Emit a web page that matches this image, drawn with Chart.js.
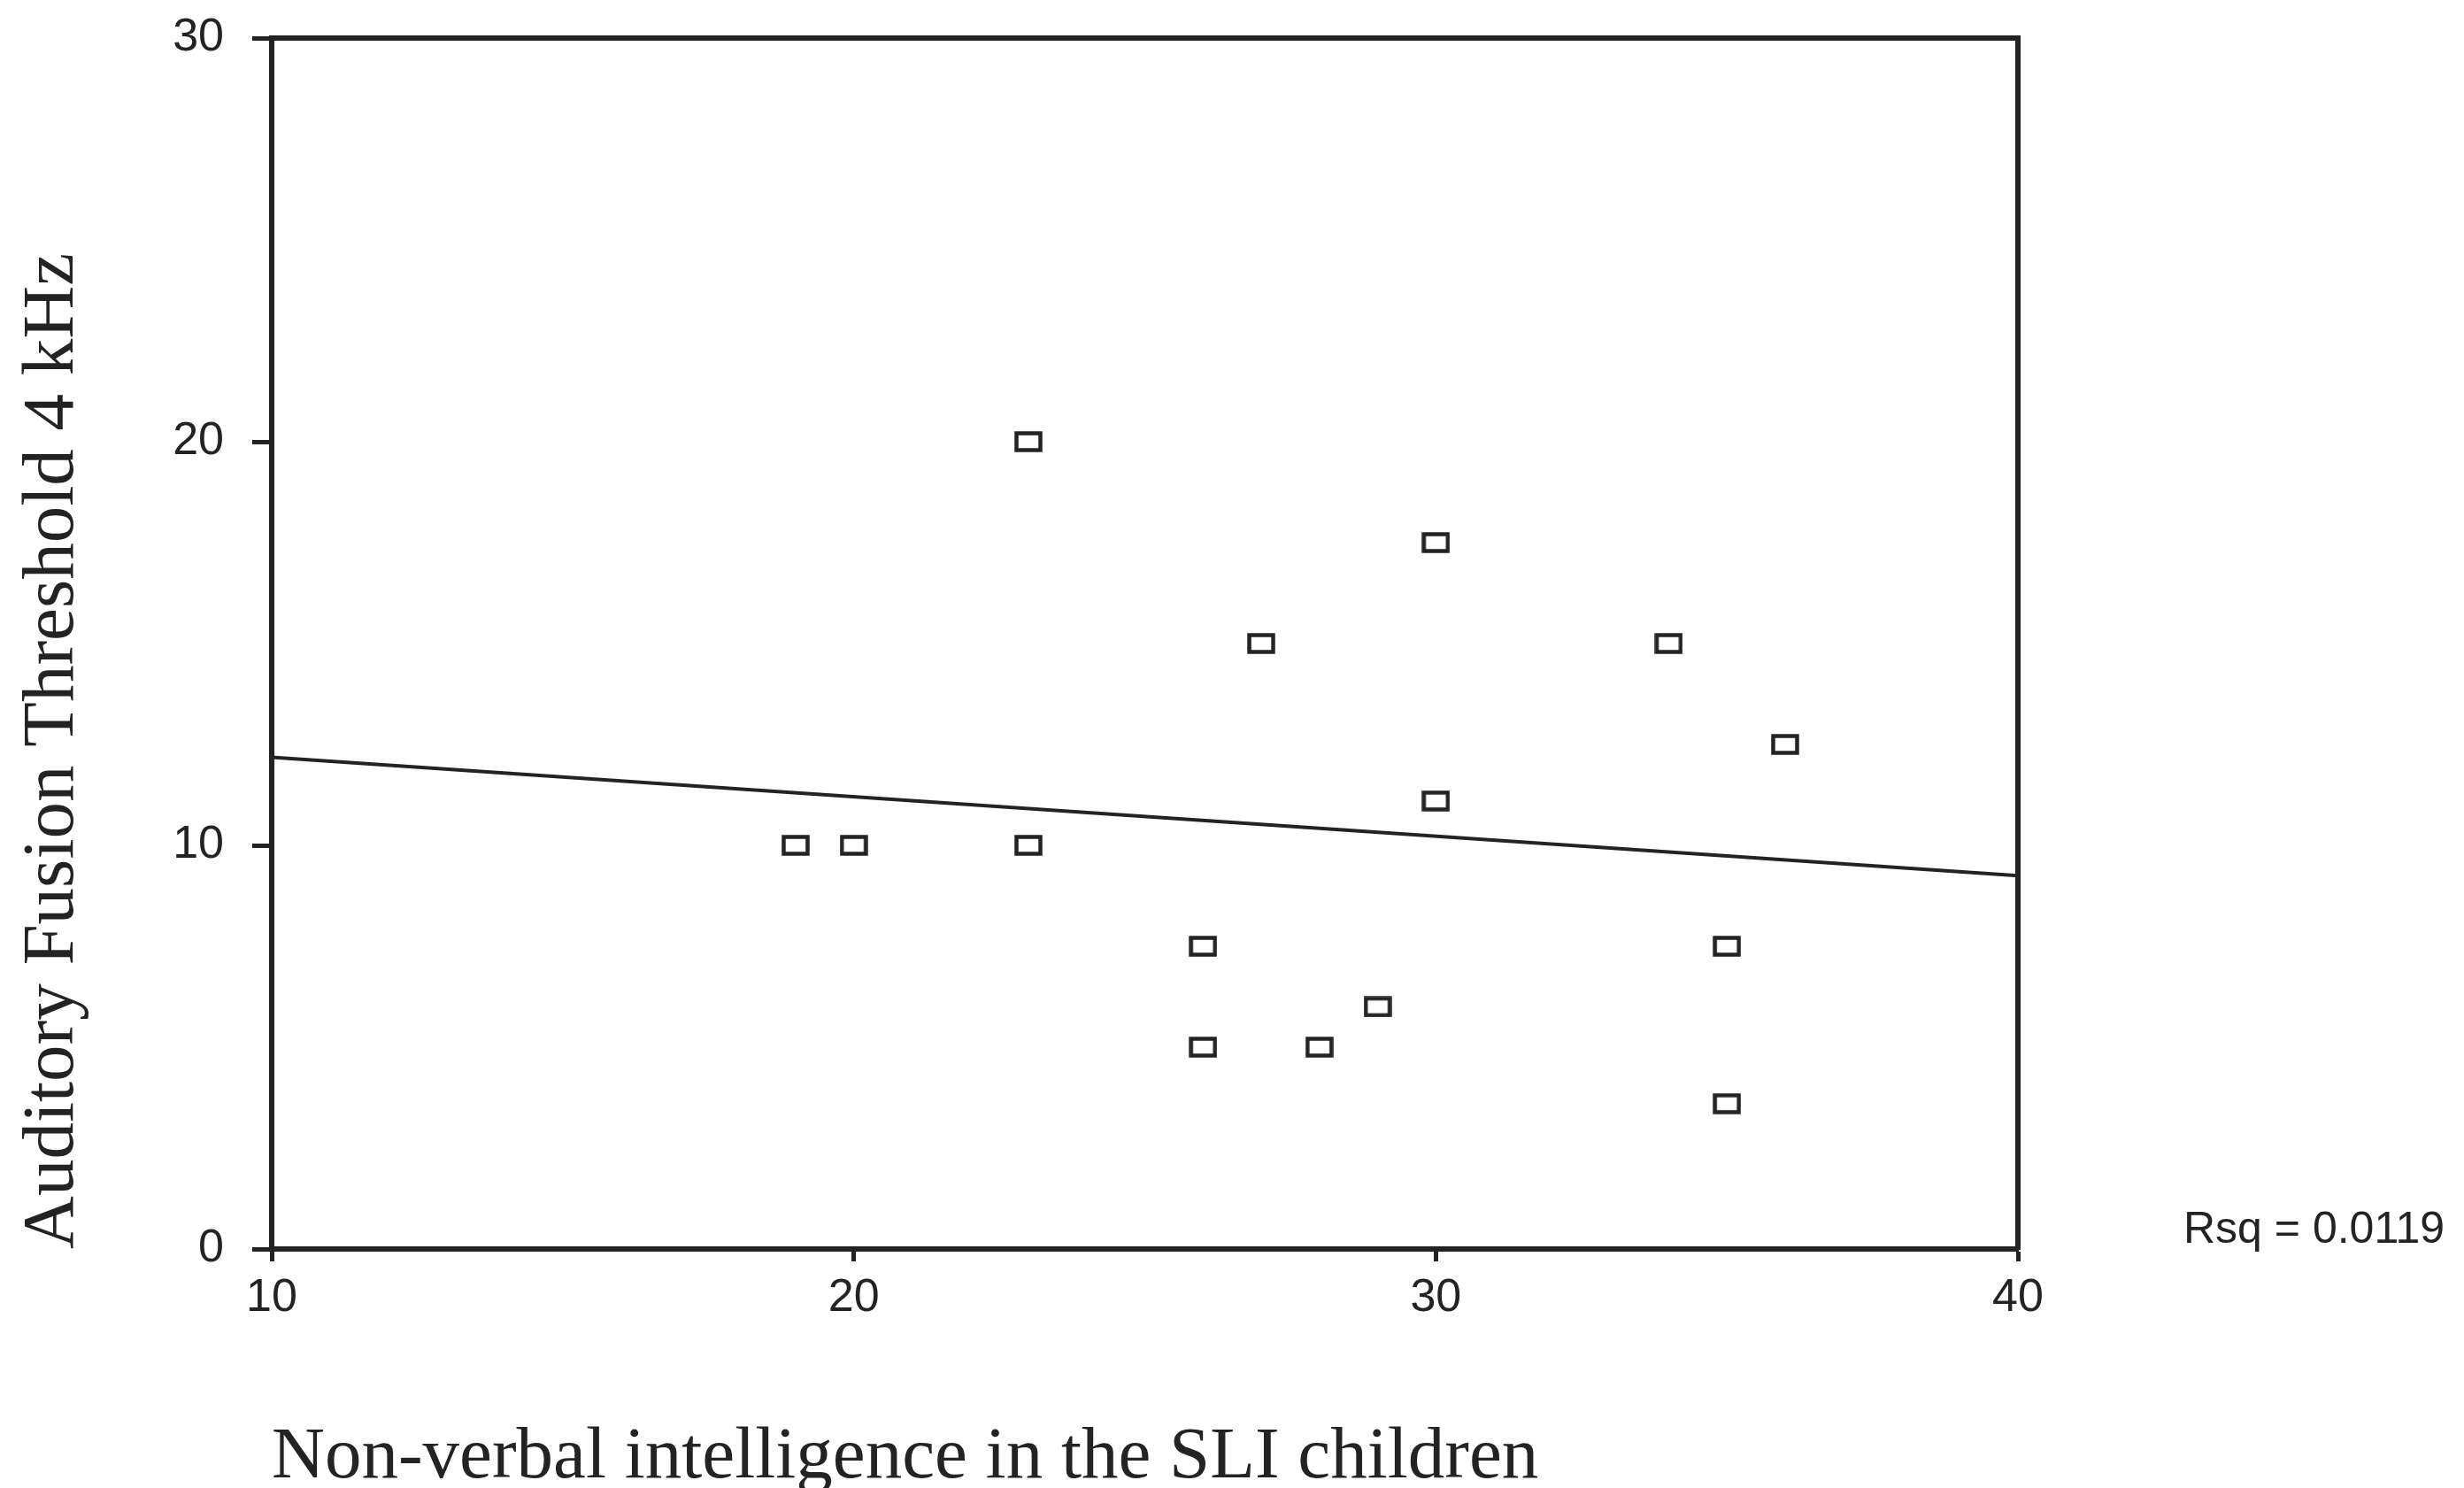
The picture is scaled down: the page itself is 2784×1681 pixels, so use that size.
<!DOCTYPE html>
<html>
<head>
<meta charset="utf-8">
<script src="https://cdn.jsdelivr.net/npm/chart.js@4/dist/chart.umd.min.js"></script>
<style>
  html, body { margin: 0; padding: 0; background: #ffffff; }
  canvas { display: block; }
</style>
</head>
<body>
<canvas id="c" width="2784" height="1681"></canvas>
<script>
// ---- data ----
const xValues = [19, 20, 23, 23, 27, 30, 30, 34, 36, 26, 26, 28, 29, 35, 35];
const yValues = [10, 10, 10, 20, 15, 17.5, 11.1, 15, 12.5, 7.5, 5, 5, 6, 7.5, 3.6];
const fitX = [10, 40];
const fitY = [12.18, 9.25];
const xTicks = [10, 20, 30, 40];
const yTicks = [0, 10, 20, 30];
const xTitle = 'Non-verbal intelligence in the SLI children';
const yTitle = 'Auditory Fusion Threshold 4 kHz';
const rsqLabel = 'Rsq = 0.0119';

const ink = '#232323';

// hollow rectangular marker
const marker = document.createElement('canvas');
marker.width = 32; marker.height = 24;
(function () {
  const m = marker.getContext('2d');
  m.strokeStyle = ink;
  m.lineWidth = 4.5;
  m.strokeRect(2.5, 2.5, 27, 19);
})();

const points = xValues.map((x, i) => ({ x: x, y: yValues[i] }));
const fitLine = fitX.map((x, i) => ({ x: x, y: fitY[i] }));

const rsqPlugin = {
  id: 'rsq',
  afterDraw(chart) {
    const a = chart.chartArea;
    const ctx = chart.ctx;
    ctx.save();
    ctx.font = '50px "Liberation Sans", Arial, sans-serif';
    ctx.fillStyle = ink;
    ctx.textBaseline = 'alphabetic';
    ctx.textAlign = 'left';
    ctx.fillText(rsqLabel, a.right + 187, a.bottom - 7);
    ctx.restore();
  }
};

const tickFont = { family: '"Liberation Sans", Arial, sans-serif', size: 52 };
const titleFont = { family: '"Liberation Serif", "Times New Roman", serif', size: 83, lineHeight: 1.2 };

function zeroPad(s) {
  s.paddingTop = 0; s.paddingBottom = 0; s.paddingLeft = 0; s.paddingRight = 0;
}

new Chart(document.getElementById('c'), {
  type: 'scatter',
  data: {
    datasets: [
      {
        label: 'fit',
        type: 'line',
        data: fitLine,
        borderColor: ink,
        borderWidth: 4,
        pointRadius: 0,
        fill: false,
        order: 2
      },
      {
        label: 'children',
        data: points,
        pointStyle: marker,
        pointRadius: 14,
        order: 1
      }
    ]
  },
  options: {
    responsive: false,
    devicePixelRatio: 1,
    animation: false,
    layout: { autoPadding: false, padding: { left: 10, top: 43, right: 504, bottom: 0 } },
    plugins: {
      legend: { display: false },
      tooltip: { enabled: false }
    },
    scales: {
      x: {
        type: 'linear',
        position: 'bottom',
        min: 10, max: 40,
        afterBuildTicks(s) { s.ticks = xTicks.map(v => ({ value: v })); },
        ticks: { font: tickFont, color: ink, padding: 10, maxRotation: 0 },
        grid: { drawOnChartArea: false, drawTicks: true, tickLength: 14, tickWidth: 5, color: ink },
        border: { display: true, width: 6, color: ink },
        title: { display: true, text: xTitle, align: 'start', font: titleFont, color: ink, padding: { top: 0, bottom: -16 } },
        afterFit(s) { s.height = 270; zeroPad(s); }
      },
      y: {
        type: 'linear',
        position: 'left',
        min: 0, max: 30,
        afterBuildTicks(s) { s.ticks = yTicks.map(v => ({ value: v })); },
        ticks: { font: tickFont, color: ink, padding: 32 },
        grid: { drawOnChartArea: false, drawTicks: true, tickLength: 22, tickWidth: 5, color: ink },
        border: { display: true, width: 6, color: ink },
        title: { display: true, text: yTitle, align: 'start', font: titleFont, color: ink, padding: { top: 0, bottom: 0 } },
        afterFit(s) { s.width = 297; zeroPad(s); }
      },
      x2: {
        type: 'linear',
        position: 'top',
        min: 10, max: 40,
        ticks: { display: false },
        grid: { drawOnChartArea: false, drawTicks: false },
        border: { display: true, width: 6, color: ink },
        afterFit(s) { s.height = 0; zeroPad(s); }
      },
      y2: {
        type: 'linear',
        position: 'right',
        min: 0, max: 30,
        ticks: { display: false },
        grid: { drawOnChartArea: false, drawTicks: false },
        border: { display: true, width: 6, color: ink },
        afterFit(s) { s.width = 0; zeroPad(s); }
      }
    }
  },
  plugins: [rsqPlugin]
});
</script>
</body>
</html>
